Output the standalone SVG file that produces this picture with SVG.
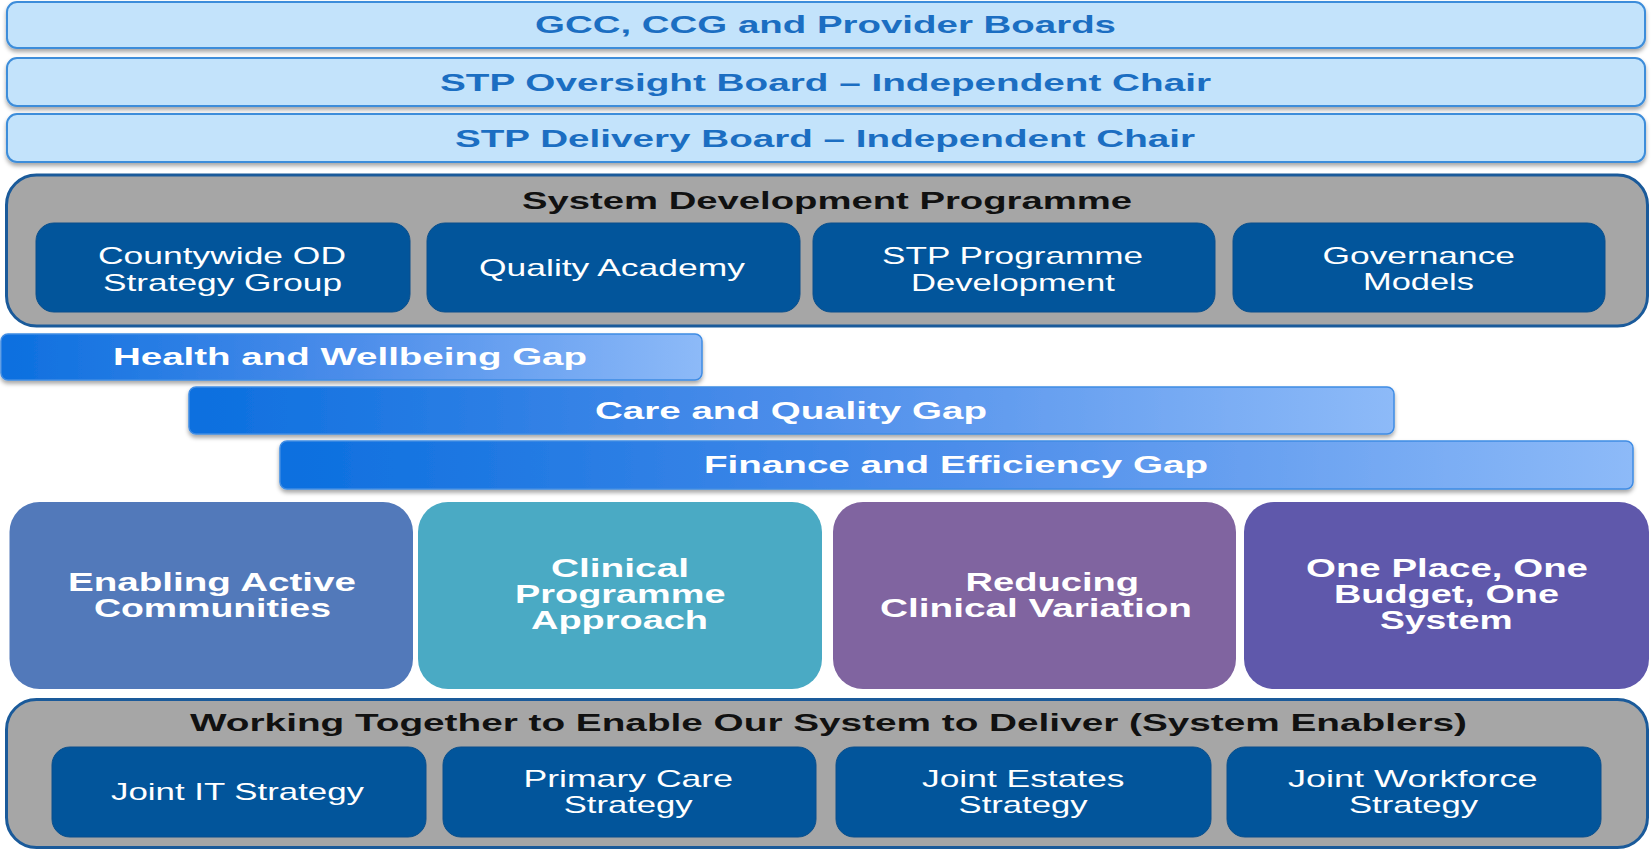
<svg xmlns="http://www.w3.org/2000/svg" width="1652" height="851" viewBox="0 0 1652 851">
  <defs>
    <linearGradient id="gapGrad" x1="0" y1="0" x2="1" y2="0">
      <stop offset="0" stop-color="#0B6FDF"/>
      <stop offset="0.5" stop-color="#4C8DEA"/>
      <stop offset="1" stop-color="#8DBAF8"/>
    </linearGradient>
    <filter id="shadow" x="-5%" y="-20%" width="110%" height="160%">
      <feDropShadow dx="0" dy="3" stdDeviation="2" flood-color="#000" flood-opacity="0.35"/>
    </filter>
    <style>
      .bar { fill:#C3E3FB; stroke:#3D8DDA; stroke-width:2; }
      .bartxt { font-family:"Liberation Sans", Arial, sans-serif; font-weight:bold; font-size:24px; fill:#1B6EC2; }
      .cont { fill:#A6A6A6; stroke:#1A5A9A; stroke-width:3; }
      .title { font-family:"Liberation Sans", Arial, sans-serif; font-weight:bold; font-size:23px; fill:#111111; }
      .inner { fill:#02559B; stroke:#0A4F8C; stroke-width:1; }
      .innertxt { font-family:"Liberation Sans", Arial, sans-serif; font-size:24px; fill:#FFFFFF; }
      .gap { fill:url(#gapGrad); stroke:#3F8CE4; stroke-width:1.5; }
      .gaptxt { font-family:"Liberation Sans", Arial, sans-serif; font-weight:bold; font-size:24px; fill:#FFFFFF; }
      .pillartxt { font-family:"Liberation Sans", Arial, sans-serif; font-weight:bold; font-size:25px; fill:#FFFFFF; }
    </style>
  </defs>
  <rect x="0" y="0" width="1652" height="851" fill="#FFFFFF"/>

  <g id="gcc-boards">
    <rect class="bar" x="7" y="2" width="1638" height="46" rx="10" filter="url(#shadow)"/>
    <text class="bartxt" x="535" y="33" textLength="581" lengthAdjust="spacingAndGlyphs">GCC, CCG and Provider Boards</text>
  </g>
  <g id="stp-oversight">
    <rect class="bar" x="7" y="58" width="1638" height="48" rx="10" filter="url(#shadow)"/>
    <text class="bartxt" x="440" y="91" textLength="771" lengthAdjust="spacingAndGlyphs">STP Oversight Board – Independent Chair</text>
  </g>
  <g id="stp-delivery">
    <rect class="bar" x="7" y="114" width="1638" height="48" rx="10" filter="url(#shadow)"/>
    <text class="bartxt" x="455" y="147" textLength="740" lengthAdjust="spacingAndGlyphs">STP Delivery Board – Independent Chair</text>
  </g>

  <g id="system-development">
    <rect class="cont" x="6.5" y="175" width="1641" height="151" rx="30"/>
    <text class="title" x="522" y="209" textLength="610" lengthAdjust="spacingAndGlyphs">System Development Programme</text>
  </g>
  <g id="countywide-od">
    <rect class="inner" x="36" y="223" width="374" height="89" rx="18"/>
    <text class="innertxt" x="98" y="264" textLength="248" lengthAdjust="spacingAndGlyphs">Countywide OD</text>
    <text class="innertxt" x="103" y="290.5" textLength="239" lengthAdjust="spacingAndGlyphs">Strategy Group</text>
  </g>
  <g id="quality-academy">
    <rect class="inner" x="427" y="223" width="373" height="89" rx="18"/>
    <text class="innertxt" x="479" y="276" textLength="266" lengthAdjust="spacingAndGlyphs">Quality Academy</text>
  </g>
  <g id="stp-programme-development">
    <rect class="inner" x="813" y="223" width="402" height="89" rx="18"/>
    <text class="innertxt" x="882" y="264" textLength="261" lengthAdjust="spacingAndGlyphs">STP Programme</text>
    <text class="innertxt" x="911" y="290.5" textLength="204" lengthAdjust="spacingAndGlyphs">Development</text>
  </g>
  <g id="governance-models">
    <rect class="inner" x="1233" y="223" width="372" height="89" rx="18"/>
    <text class="innertxt" x="1322.5" y="263.5" textLength="192.5" lengthAdjust="spacingAndGlyphs">Governance</text>
    <text class="innertxt" x="1363" y="290" textLength="111" lengthAdjust="spacingAndGlyphs">Models</text>
  </g>

  <g id="health-wellbeing-gap">
    <rect class="gap" x="1" y="334" width="701" height="46" rx="7" filter="url(#shadow)"/>
    <text class="gaptxt" x="113" y="365" textLength="474" lengthAdjust="spacingAndGlyphs">Health and Wellbeing Gap</text>
  </g>
  <g id="care-quality-gap">
    <rect class="gap" x="189" y="387" width="1205" height="47" rx="7" filter="url(#shadow)"/>
    <text class="gaptxt" x="595" y="419" textLength="392" lengthAdjust="spacingAndGlyphs">Care and Quality Gap</text>
  </g>
  <g id="finance-efficiency-gap">
    <rect class="gap" x="280" y="441" width="1353" height="48" rx="7" filter="url(#shadow)"/>
    <text class="gaptxt" x="704" y="473" textLength="504" lengthAdjust="spacingAndGlyphs">Finance and Efficiency Gap</text>
  </g>

  <g id="enabling-active-communities">
    <rect x="9.5" y="502" width="403.5" height="187" rx="30" fill="#5279BA"/>
    <text class="pillartxt" x="68" y="591" textLength="288" lengthAdjust="spacingAndGlyphs">Enabling Active</text>
    <text class="pillartxt" x="94" y="617" textLength="237" lengthAdjust="spacingAndGlyphs">Communities</text>
  </g>
  <g id="clinical-programme-approach">
    <rect x="418" y="502" width="404" height="187" rx="30" fill="#4AAAC4"/>
    <text class="pillartxt" x="551" y="577" textLength="138" lengthAdjust="spacingAndGlyphs">Clinical</text>
    <text class="pillartxt" x="515" y="603" textLength="210.5" lengthAdjust="spacingAndGlyphs">Programme</text>
    <text class="pillartxt" x="531" y="629" textLength="177" lengthAdjust="spacingAndGlyphs">Approach</text>
  </g>
  <g id="reducing-clinical-variation">
    <rect x="833" y="502" width="403" height="187" rx="30" fill="#8064A0"/>
    <text class="pillartxt" x="965.5" y="590.5" textLength="173.5" lengthAdjust="spacingAndGlyphs">Reducing</text>
    <text class="pillartxt" x="880" y="616.5" textLength="312" lengthAdjust="spacingAndGlyphs">Clinical Variation</text>
  </g>
  <g id="one-place-one-budget">
    <rect x="1244" y="502" width="405" height="187" rx="30" fill="#5F58AB"/>
    <text class="pillartxt" x="1306" y="577" textLength="282" lengthAdjust="spacingAndGlyphs">One Place, One</text>
    <text class="pillartxt" x="1334" y="603" textLength="225" lengthAdjust="spacingAndGlyphs">Budget, One</text>
    <text class="pillartxt" x="1380" y="629" textLength="132.6" lengthAdjust="spacingAndGlyphs">System</text>
  </g>

  <g id="system-enablers">
    <rect class="cont" x="6.5" y="699.5" width="1641" height="148" rx="30"/>
    <text class="title" x="190" y="730.5" textLength="1277" lengthAdjust="spacingAndGlyphs">Working Together to Enable Our System to Deliver (System Enablers)</text>
  </g>
  <g id="joint-it-strategy">
    <rect class="inner" x="52" y="747" width="374" height="90" rx="18"/>
    <text class="innertxt" x="111" y="800" textLength="253" lengthAdjust="spacingAndGlyphs">Joint IT Strategy</text>
  </g>
  <g id="primary-care-strategy">
    <rect class="inner" x="443" y="747" width="373" height="90" rx="18"/>
    <text class="innertxt" x="523.5" y="787" textLength="209.5" lengthAdjust="spacingAndGlyphs">Primary Care</text>
    <text class="innertxt" x="563.7" y="813" textLength="129" lengthAdjust="spacingAndGlyphs">Strategy</text>
  </g>
  <g id="joint-estates-strategy">
    <rect class="inner" x="836" y="747" width="375" height="90" rx="18"/>
    <text class="innertxt" x="922" y="787" textLength="202.5" lengthAdjust="spacingAndGlyphs">Joint Estates</text>
    <text class="innertxt" x="958.6" y="813" textLength="129" lengthAdjust="spacingAndGlyphs">Strategy</text>
  </g>
  <g id="joint-workforce-strategy">
    <rect class="inner" x="1227" y="747" width="374" height="90" rx="18"/>
    <text class="innertxt" x="1288" y="786.5" textLength="249.6" lengthAdjust="spacingAndGlyphs">Joint Workforce</text>
    <text class="innertxt" x="1349" y="813" textLength="129" lengthAdjust="spacingAndGlyphs">Strategy</text>
  </g>
</svg>
